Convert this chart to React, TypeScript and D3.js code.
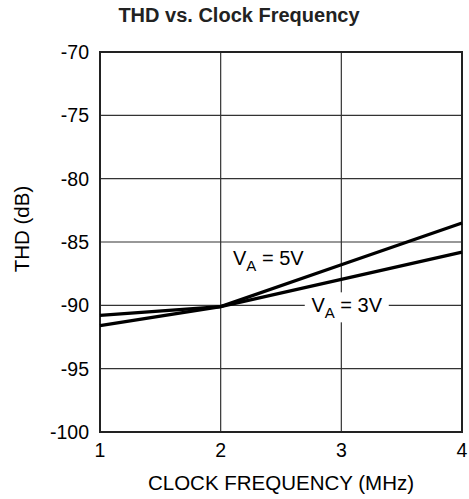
import React from "react";
import * as d3 from "d3";

const xTicks = [1, 2, 3, 4];
const yTicks = [-70, -75, -80, -85, -90, -95, -100];
const freq = [1, 2, 3, 4];
const thd5V = [-91.6, -90.1, -86.8, -83.5];
const thd3V = [-90.8, -90.1, -87.95, -85.8];

const W = 469;
const H = 499;
const M = { left: 100, right: 462, top: 52, bottom: 432 };
const FONT = "'Liberation Sans', Arial, Helvetica, sans-serif";

export default function App() {
  const x = d3.scaleLinear().domain([1, 4]).range([M.left, M.right]);
  const y = d3.scaleLinear().domain([-100, -70]).range([M.bottom, M.top]);
  const line = d3
    .line<number>()
    .x((_, i) => x(freq[i]))
    .y((d) => y(d));

  const lab3x = x(3.045);
  const lab3y = y(-90);

  return (
    <svg
      width={W}
      height={H}
      style={{ position: "absolute", left: 0, top: 0, background: "#fff" }}
    >
      <text
        x={239}
        y={22}
        textAnchor="middle"
        fontFamily={FONT}
        fontWeight="bold"
        fontSize={20}
        fill="#222"
      >
        THD vs. Clock Frequency
      </text>
      {/* grid */}
      {yTicks.map((t) => (
        <line
          key={"gy" + t}
          x1={M.left}
          x2={M.right}
          y1={y(t)}
          y2={y(t)}
          stroke="#333"
          strokeWidth={1.2}
        />
      ))}
      {xTicks.map((t) => (
        <line
          key={"gx" + t}
          x1={x(t)}
          x2={x(t)}
          y1={M.top}
          y2={M.bottom}
          stroke="#333"
          strokeWidth={1.2}
        />
      ))}
      <rect
        x={M.left}
        y={M.top}
        width={M.right - M.left}
        height={M.bottom - M.top}
        fill="none"
        stroke="#222"
        strokeWidth={2}
      />
      <rect x={lab3x - 42} y={lab3y - 13} width={84} height={30} fill="#fff" />
      {/* curves */}
      <path d={line(thd5V) || ""} fill="none" stroke="#000" strokeWidth={3.3} />
      <path d={line(thd3V) || ""} fill="none" stroke="#000" strokeWidth={3.3} />
      {/* labels */}
      <text x={233} y={265} fontFamily={FONT} fontSize={20} fill="#000">
        V
        <tspan fontSize={15} dy={6}>A</tspan>
        <tspan dy={-6}> = 5V</tspan>
      </text>
      <text
        x={lab3x}
        y={lab3y + 7}
        textAnchor="middle"
        fontFamily={FONT}
        fontSize={20}
        fill="#000"
      >
        V
        <tspan fontSize={15} dy={6}>A</tspan>
        <tspan dy={-6}> = 3V</tspan>
      </text>
      {/* y ticks */}
      {yTicks.map((t) => (
        <text
          key={"ty" + t}
          x={M.left - 11}
          y={y(t) + 7}
          textAnchor="end"
          fontFamily={FONT}
          fontSize={19.5}
          fill="#000"
        >
          {t}
        </text>
      ))}
      {xTicks.map((t) => (
        <text
          key={"tx" + t}
          x={x(t)}
          y={457}
          textAnchor="middle"
          fontFamily={FONT}
          fontSize={19.5}
          fill="#000"
        >
          {t}
        </text>
      ))}
      <text
        x={(M.left + M.right) / 2}
        y={490}
        textAnchor="middle"
        fontFamily={FONT}
        fontSize={20.5}
        fill="#000"
      >
        CLOCK FREQUENCY (MHz)
      </text>
      <text
        transform={`translate(29, ${229}) rotate(-90)`}
        textAnchor="middle"
        fontFamily={FONT}
        fontSize={20.5}
        fill="#000"
      >
        THD (dB)
      </text>
    </svg>
  );
}
